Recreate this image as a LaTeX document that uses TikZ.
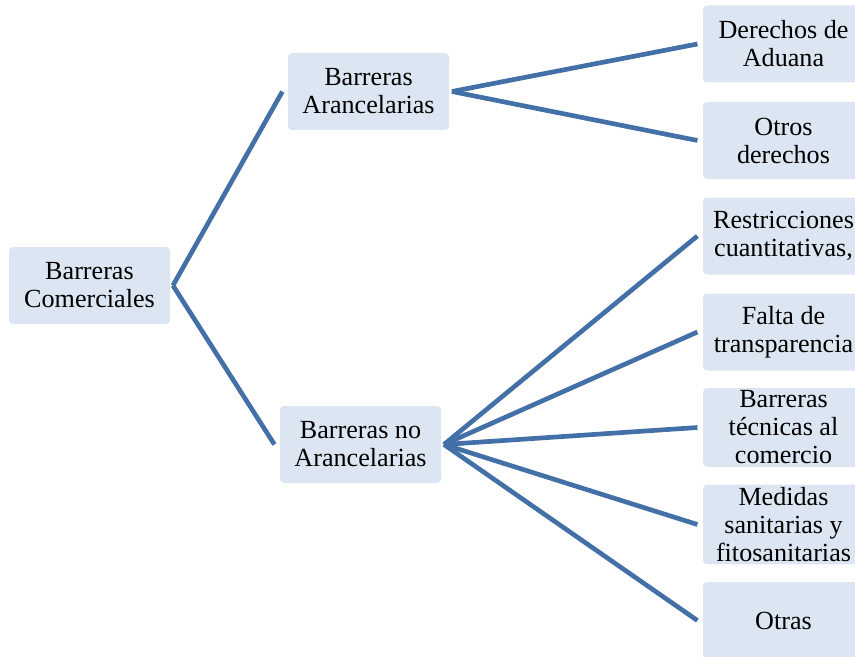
\documentclass[tikz,border=0pt]{standalone}
\usepackage{fontspec}
\setmainfont{Liberation Serif}
\usepackage{tikz}
\usetikzlibrary{positioning}
\definecolor{BoxBlue}{HTML}{DCE6F2}
\definecolor{LineBlue}{HTML}{4470A8}
\tikzset{
  caja/.style={fill=BoxBlue, rounded corners=3pt, align=center,
    minimum width=120.75pt, minimum height=57.75pt, inner sep=2pt,
    font=\fontsize{19.6}{21}\selectfont},
  rama/.style={draw=LineBlue, line width=3.5pt}
}
\begin{document}
\begin{tikzpicture}[x=0.75pt,y=-0.75pt]
        \useasboundingbox (0,0) rectangle (855,656);
        \clip (0,0) rectangle (855,656);
        % niveles del arbol
        \node[caja] (root) at (89.5,285.5) {Barreras\\Comerciales};
        \node[caja] (aran) at (368.5,91.5) {Barreras\\Arancelarias};
        \node[caja] (noaran) at (360.5,444.5) {Barreras no\\Arancelarias};
        \node[caja] (h1) at (783.5,44) {Derechos de\\Aduana};
        \node[caja] (h2) at (783.5,140.5) {Otros\\derechos};
        \node[caja] (h3) at (783.5,236) {Restricciones\\cuantitativas,};
        \node[caja] (h4) at (783.5,332) {Falta de\\transparencia};
        \node[caja] (h5) at (783.5,427.5) {Barreras\\técnicas al\\comercio};
        \node[caja] (h6) at (783.5,524.5) {Medidas\\sanitarias y\\fitosanitarias};
        \node[caja] (h7) at (783.5,620.5) {Otras};
        % conectores
        \draw[rama] ([xshift=2pt]root.east) -- ([xshift=-4pt]aran.west);
        \draw[rama] ([xshift=2pt]root.east) -- ([xshift=-4pt]noaran.west);
        \draw[rama] ([xshift=2pt]aran.east) -- ([xshift=-4pt]h1.west);
        \draw[rama] ([xshift=2pt]aran.east) -- ([xshift=-4pt]h2.west);
        \foreach \h in {h3,h4,h5,h6,h7}
          \draw[rama] ([xshift=2pt]noaran.east) -- ([xshift=-4pt]\h.west);
    \end{tikzpicture}
\end{document}
